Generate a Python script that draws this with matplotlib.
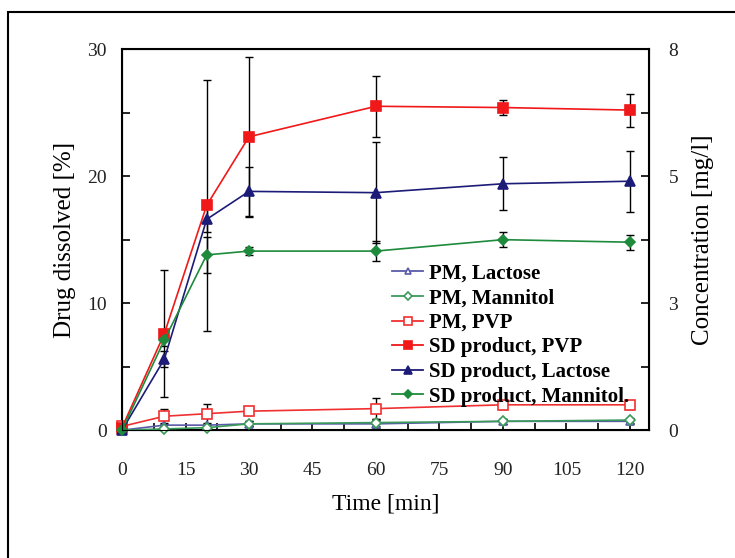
import matplotlib
matplotlib.use("Agg")
import matplotlib.pyplot as plt
from matplotlib.lines import Line2D
from matplotlib.patches import Rectangle
from matplotlib.ticker import MultipleLocator, FixedLocator

plt.rcParams['font.family'] = ['Liberation Serif', 'DejaVu Serif']

# data
time_min = [0, 10, 20, 30, 60, 90, 120]

pm_lactose = [0.0, 0.4, 0.4, 0.5, 0.5, 0.7, 0.7]
pm_mannitol = [0.0, 0.1, 0.2, 0.5, 0.6, 0.7, 0.8]
pm_pvp = [0.3, 1.1, 1.3, 1.5, 1.7, 2.0, 2.0]
sd_pvp = [0.2, 7.6, 17.7, 23.1, 25.5, 25.4, 25.2]
sd_lactose = [0.0, 5.6, 16.6, 18.8, 18.7, 19.4, 19.6]
sd_mannitol = [0.0, 7.1, 13.8, 14.1, 14.1, 15.0, 14.8]

err_pm_lactose = [0.0, 0.2, 0.2, 0.2, 0.3, 0.2, 0.2]
err_pm_mannitol = [0.0, 0.1, 0.2, 0.2, 0.3, 0.2, 0.2]
err_pm_pvp = [0.0, 0.6, 0.8, 0.3, 0.8, 0.3, 0.3]
err_sd_pvp = [0.0, 5.0, 9.9, 6.3, 2.4, 0.6, 1.3]
err_sd_lactose = [0.0, 0.6, 1.0, 1.9, 4.0, 2.1, 2.4]
err_sd_mannitol = [0.0, 0.5, 1.4, 0.3, 0.8, 0.6, 0.6]

labels = ['PM, Lactose', 'PM, Mannitol', 'PM, PVP',
          'SD product, PVP', 'SD product, Lactose', 'SD product, Mannitol.']

conc_ticks = [0, 8 / 3, 16 / 3, 8]
conc_labels = ['0', '3', '5', '8']

fig = plt.figure(figsize=(7.35, 5.58), dpi=100)
ax = fig.add_axes([0.166, 0.229, 0.717, 0.683])

series = [
    (pm_lactose, err_pm_lactose, '#5a5aa8', '^', 'white', 6),
    (pm_mannitol, err_pm_mannitol, '#3a9a5a', 'D', 'white', 5),
    (pm_pvp, err_pm_pvp, '#f03030', 's', 'white', 7),
    (sd_pvp, err_sd_pvp, '#f01818', 's', '#f01818', 7),
    (sd_lactose, err_sd_lactose, '#1c1c78', '^', '#1c1c78', 7),
    (sd_mannitol, err_sd_mannitol, '#1e8a3c', 'D', '#1e8a3c', 5),
]

handles = []
for (vals, errs, col, mk, face, ms), lab in zip(series, labels):
    ax.errorbar(time_min, vals, yerr=errs, fmt='none', ecolor='black',
                elinewidth=1.0, capsize=3, capthick=1.0, zorder=2)
    ax.plot(time_min, vals, color=col, lw=1.2, marker=mk, ms=ms,
            mfc=face, mec=col, mew=1.2, zorder=3, clip_on=False)
    handles.append(Line2D([], [], color=col, lw=1.3, marker=mk, ms=ms - 1,
                          mfc=face, mec=col, mew=1.2))

ax.set_xlim(0, 124.5)
ax.set_ylim(0, 30)
ax.xaxis.set_major_locator(MultipleLocator(15))
ax.xaxis.set_minor_locator(MultipleLocator(7.5))
ax.yaxis.set_major_locator(MultipleLocator(10))
ax.yaxis.set_minor_locator(MultipleLocator(5))
ax.tick_params(axis='x', which='both', direction='in', length=5, width=1.2,
               pad=23, labelsize=14, colors='black', labelcolor='#222222')
ax.tick_params(axis='y', which='both', direction='in', length=6, width=1.2,
               pad=11, labelsize=14, labelcolor='#222222')
for sp in ax.spines.values():
    sp.set_linewidth(1.5)

ax.set_xlabel('Time [min]', fontsize=17, labelpad=10)
ax.set_ylabel('Drug dissolved [%]', fontsize=18, labelpad=8)

ax2 = ax.twinx()
ax2.set_ylim(0, 8)
ax2.yaxis.set_major_locator(FixedLocator(conc_ticks))
ax2.yaxis.set_minor_locator(FixedLocator([4 / 3, 4, 20 / 3]))
ax2.set_yticklabels(conc_labels)
ax2.tick_params(axis='y', which='both', direction='in', length=6, width=1.2,
                pad=14, labelsize=14, labelcolor='#222222')
ax2.set_ylabel('Concentration [mg/l]', fontsize=18, labelpad=10)

fig.legend(handles, labels, loc='upper left', bbox_to_anchor=(0.519, 0.546),
           frameon=False, borderpad=0, handlelength=1.5, handletextpad=0.3,
           labelspacing=0.22, numpoints=1,
           prop={'family': 'Liberation Serif', 'weight': 'bold', 'size': 15})

# outer frame of the figure, cut at the right and bottom edges
fig.patches.append(Rectangle((8 / 735, -0.1), 1.2, 1.1 - 12 / 558,
                             transform=fig.transFigure, fill=False,
                             edgecolor='black', lw=1.5, clip_on=False))

fig.savefig('out.png', dpi=100)
